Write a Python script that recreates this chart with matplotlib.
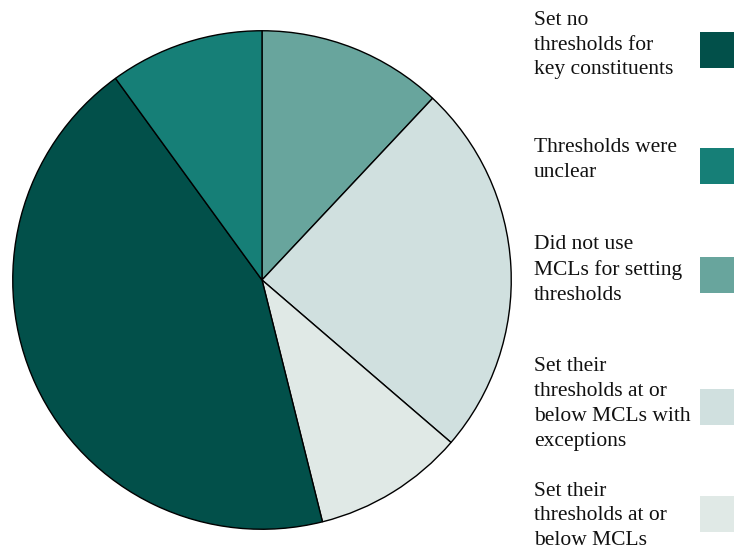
import matplotlib
matplotlib.use("Agg")
import matplotlib.pyplot as plt
from matplotlib.patches import Rectangle

# Pie slices, clockwise from 12 o'clock
pie_labels = ["Did not use\nMCLs for setting\nthresholds",
              "Set their\nthresholds at or\nbelow MCLs with\nexceptions",
              "Set their\nthresholds at or\nbelow MCLs",
              "Set no\nthresholds for\nkey constituents",
              "Thresholds were\nunclear"]
pie_values = [12, 24.3, 9.8, 43.9, 10]
pie_colors = ["#68a59d", "#d0e0df", "#e0e9e6", "#02504a", "#167f77"]

# Legend order (top to bottom)
legend_labels = ["Set no\nthresholds for\nkey constituents",
                 "Thresholds were\nunclear",
                 "Did not use\nMCLs for setting\nthresholds",
                 "Set their\nthresholds at or\nbelow MCLs with\nexceptions",
                 "Set their\nthresholds at or\nbelow MCLs"]
legend_colors = ["#02504a", "#167f77", "#68a59d", "#d0e0df", "#e0e9e6"]

W, H = 734, 550
fig = plt.figure(figsize=(W / 100, H / 100), dpi=100)
ax = fig.add_axes([12 / W, 1 - 530 / H, 500 / W, 500 / H])
ax.pie(pie_values, colors=pie_colors, startangle=90, counterclock=False,
       wedgeprops=dict(edgecolor="black", linewidth=1))
ax.set_xlim(-1.003, 1.003)
ax.set_ylim(-1.003, 1.003)
ax.set_aspect("equal")

# Legend: text blocks and swatches (pixel centers)
text_centers = [45, 160, 270, 404, 516]
swatch_centers = [50, 166, 275, 407, 514]
for lab, col, tc, sc in zip(legend_labels, legend_colors, text_centers, swatch_centers):
    fig.text(534 / W, 1 - tc / H, lab, ha="left", va="center",
             fontsize=15.5, family=["Liberation Serif", "DejaVu Serif"],
             color="#111111", linespacing=1.42)
    fig.patches.append(Rectangle((700 / W, 1 - (sc + 18) / H), 40 / W, 36 / H,
                                 transform=fig.transFigure, facecolor=col,
                                 edgecolor="none"))

fig.savefig("out.png", dpi=100)
